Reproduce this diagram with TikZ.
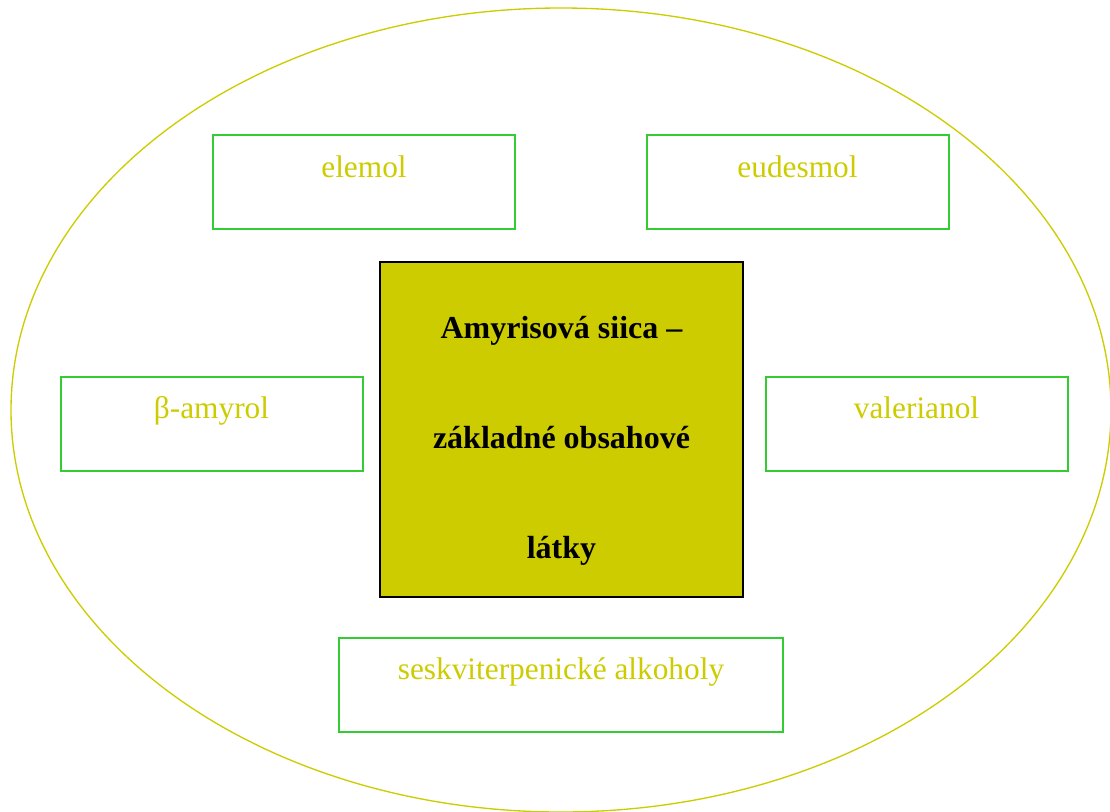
\documentclass[tikz,border=0pt]{standalone}
\usepackage{fontspec}
\setmainfont{Liberation Serif}
\usepackage{xcolor}
\usetikzlibrary{positioning}

\definecolor{siicayellow}{HTML}{CCCC00}
\definecolor{boxgreen}{HTML}{33CC33}

\begin{document}
\begin{tikzpicture}[x=0.75pt, y=-0.75pt,
    compound/.style={draw=boxgreen, line width=1.5pt, text=siicayellow,
        minimum width=226.5pt, inner sep=0pt, text height=31.5pt, text depth=39pt,
        font=\fontsize{23.5}{28}\selectfont},
    core/.style={draw=black, line width=1.5pt, fill=siicayellow,
        minimum width=272pt, minimum height=251pt, inner sep=0pt},
    coretext/.style={align=center, font=\fontsize{24}{82.5}\selectfont\bfseries}]
    \useasboundingbox (0,0) rectangle (1110,811);

    \coordinate (mid) at (561,410);
    \draw[siicayellow, line width=1pt] (mid) ellipse [x radius=550, y radius=402];

    \node[core] (siica) at (561.5,429.5) {};
    \node[coretext] (siicatext) at (561.5,441) {Amyrisová siica --\\ základné obsahové\\ látky};

    \node[compound] (elemol) at (364,182) {elemol};
    \node[compound] (eudesmol) at (797.5,182) {eudesmol};
    \node[compound] (amyrol) at (211.5,423.5) {β-amyrol};
    \node[compound] (valerianol) at (916.5,423.5) {valerianol};
    \node[compound, minimum width=333pt] (alkoholy) at (561,684.5) {seskviterpenické alkoholy};
\end{tikzpicture}
\end{document}
